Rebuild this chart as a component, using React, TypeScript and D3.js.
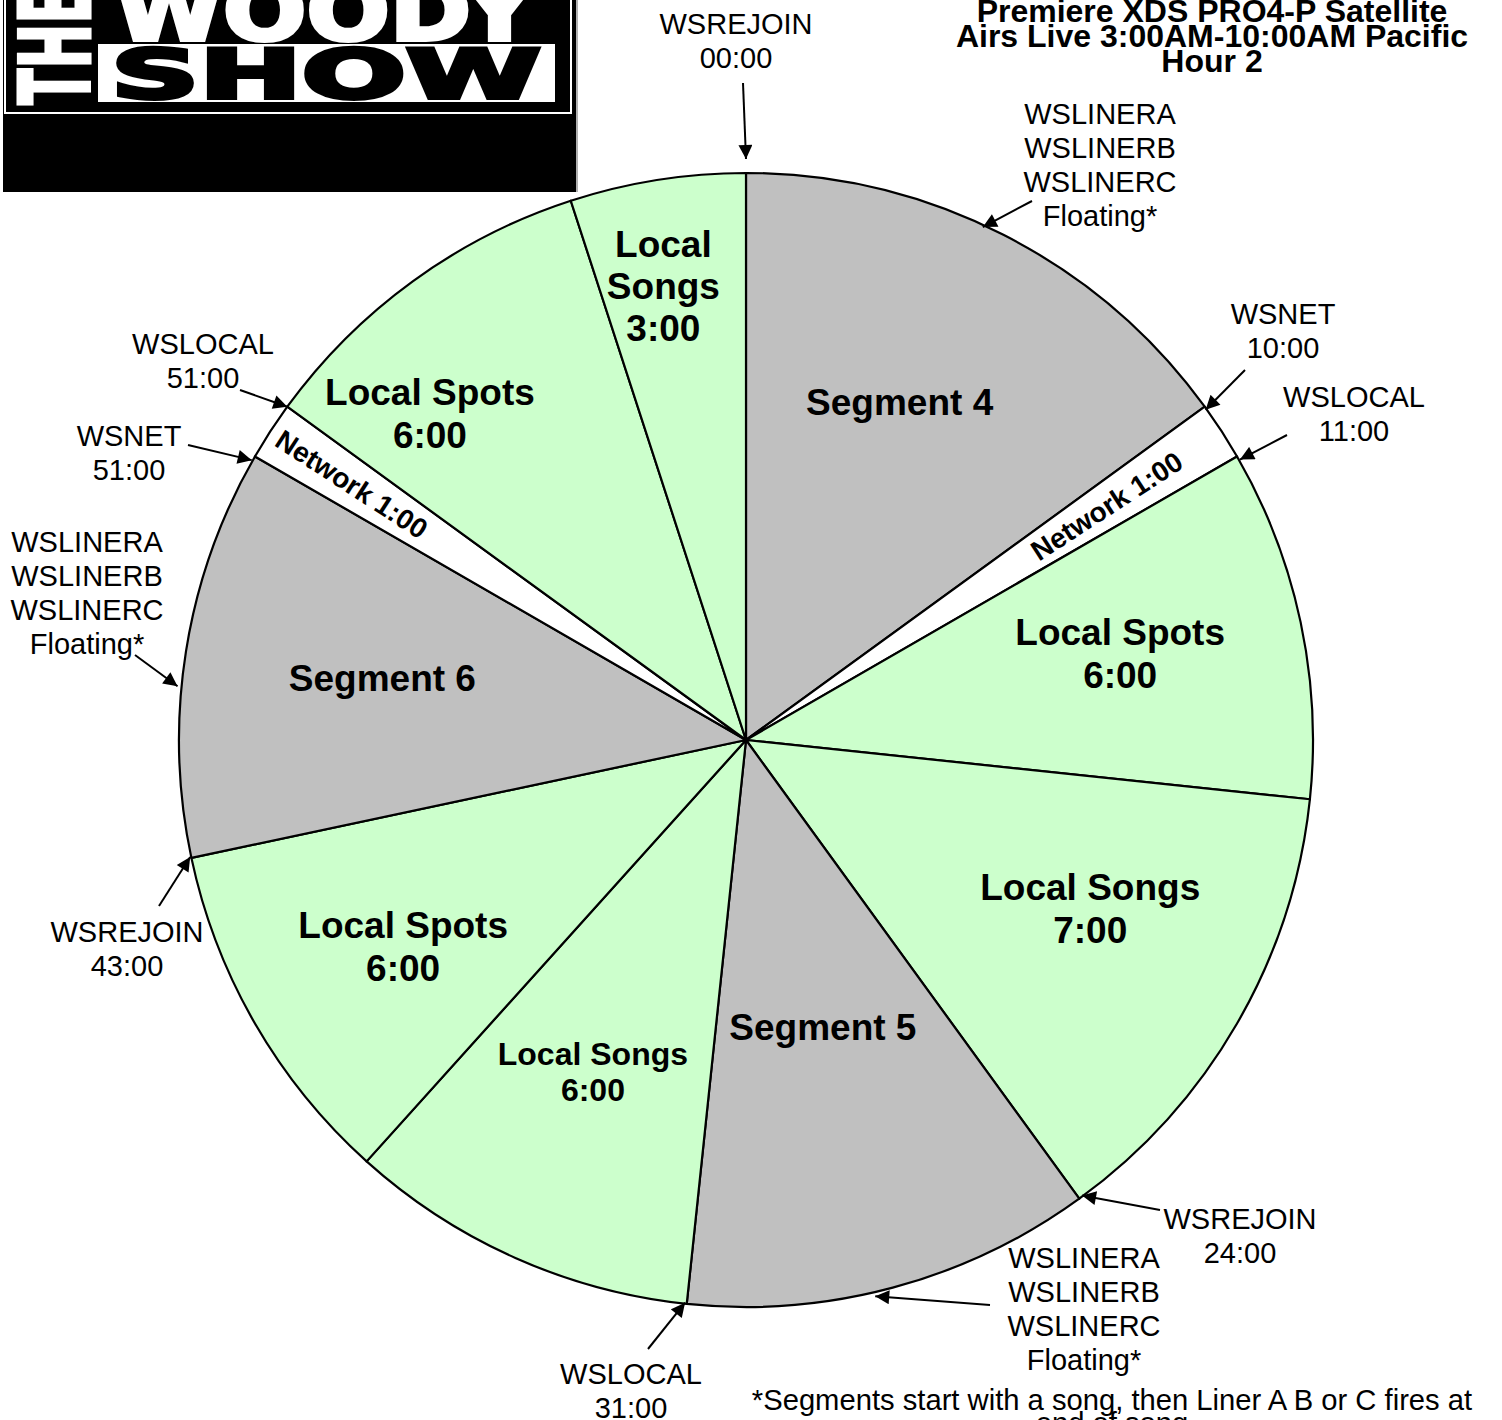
import React from "react";
import * as d3 from "d3";

// ---------- data ----------
const sliceNames = [
  "Segment 4", "Network", "Local Spots", "Local Songs", "Segment 5",
  "Local Songs", "Local Spots", "Segment 6", "Network", "Local Spots", "Local Songs",
];
const sliceDurations = ["", "1:00", "6:00", "7:00", "", "6:00", "6:00", "", "1:00", "6:00", "3:00"];
const sliceKinds = ["segment", "network", "local", "local", "segment", "local", "local", "segment", "network", "local", "local"];
// share of the dial each slice occupies (minutes of a 60-minute clock)
const sliceMinutes = [9, 1, 6, 8, 7, 6, 6, 7, 1, 6, 3];

const markerTexts = [
  ["WSREJOIN", "00:00"],
  ["WSLINERA", "WSLINERB", "WSLINERC", "Floating*"],
  ["WSNET", "10:00"],
  ["WSLOCAL", "11:00"],
  ["WSREJOIN", "24:00"],
  ["WSLINERA", "WSLINERB", "WSLINERC", "Floating*"],
  ["WSLOCAL", "31:00"],
  ["WSREJOIN", "43:00"],
  ["WSLINERA", "WSLINERB", "WSLINERC", "Floating*"],
  ["WSNET", "51:00"],
  ["WSLOCAL", "51:00"],
];
// where each arrow points on the dial (minutes of the dial)
const markerDial = [0, 4.13, 9.05, 10.07, 23.93, 27.82, 31.03, 43.02, 45.9, 49.92, 51.0];

const titleLines = ["Premiere XDS PRO4-P Satellite", "Airs Live 3:00AM-10:00AM Pacific", "Hour 2"];
const footnoteLines = ["*Segments start with a song, then Liner A B or C fires at", "end of song"];

// ---------- layout ----------
const W = 1502, H = 1420;
const CX = 746, CY = 740, R = 567;
const FONT = "'Liberation Sans', Arial, Helvetica, sans-serif";
const colors: Record<string, string> = { segment: "#C0C0C0", network: "#FFFFFF", local: "#CCFFCC" };

// label placement: radius and angle offset (deg) from slice mid angle
const labelLayout = [
  { r: 372, da: -2.6 }, { r: 430, da: 0 }, { r: 384, da: -1 }, { r: 383, da: -4 },
  { r: 297, da: 0 }, { r: 365, da: 0.8 }, { r: 400, da: -1 }, { r: 369, da: 0.8 },
  { r: 470, da: 0 }, { r: 455, da: -8 }, { r: 462, da: -1.3 },
];
// marker text (center x, first-line center y), arrow tail, tip radius
const markerLayout = [
  { x: 736, y: 24, tx: 743, ty: 83, tr: 581 },
  { x: 1100, y: 114, tx: 1032, ty: 201, tr: 565 },
  { x: 1283, y: 314, tx: 1245, ty: 370, tr: 566 },
  { x: 1354, y: 397, tx: 1287, ty: 435, tr: 568 },
  { x: 1240, y: 1219, tx: 1160, ty: 1210, tr: 566 },
  { x: 1084, y: 1258, tx: 990, ty: 1305, tr: 571 },
  { x: 631, y: 1374, tx: 648, ty: 1349, tr: 566 },
  { x: 127, y: 932, tx: 159, ty: 906, tr: 568 },
  { x: 87, y: 542, tx: 135, ty: 655, tr: 571 },
  { x: 129, y: 436, tx: 188, ty: 445, tr: 568 },
  { x: 203, y: 344, tx: 240, ty: 390, tr: 567 },
];

const dial = d3.scaleLinear().domain([0, 60]).range([0, 2 * Math.PI]);

function polar(angle: number, r: number): [number, number] {
  return [CX + r * Math.sin(angle), CY - r * Math.cos(angle)];
}

function sliceLines(i: number): string[] {
  const name = sliceNames[i], dur = sliceDurations[i];
  if (sliceKinds[i] === "segment") return [name];
  if (i === 10) return ["Local", "Songs", dur];
  return [name, dur];
}

export default function App() {
  const pie = d3.pie<number>().value((d) => d).sort(null).startAngle(0).endAngle(2 * Math.PI);
  const arcs = pie(sliceMinutes);
  const arcGen = d3.arc<d3.PieArcDatum<number>>().innerRadius(0).outerRadius(R);

  return (
    <svg width={W} height={H} style={{ position: "absolute", left: 0, top: 0, display: "block", background: "#fff" }} fontFamily={FONT}>
      <defs>
        <marker id="ah" viewBox="0 0 10 10" refX="10" refY="5" markerWidth="16" markerHeight="14" markerUnits="userSpaceOnUse" orient="auto">
          <path d="M0,0 L10,5 L0,10 Z" fill="#000" />
        </marker>
      </defs>

      {/* pie */}
      <g transform={`translate(${CX},${CY})`}>
        {arcs.map((a, i) => (
          <path key={i} d={arcGen(a) || ""} fill={colors[sliceKinds[i]]} stroke="#000" strokeWidth={2.2} strokeLinejoin="round" />
        ))}
      </g>

      {/* slice labels */}
      {arcs.map((a, i) => {
        const mid = (a.startAngle + a.endAngle) / 2 + (labelLayout[i].da * Math.PI) / 180;
        const [x, y] = polar(mid, labelLayout[i].r);
        if (sliceKinds[i] === "network") {
          let deg = (mid * 180) / Math.PI - 90;
          if (deg > 90) deg -= 180;
          return (
            <text key={i} transform={`translate(${x},${y}) rotate(${deg})`} textAnchor="middle" dy={10} fontSize={28} fontWeight="bold">
              {`${sliceNames[i]} ${sliceDurations[i]}`}
            </text>
          );
        }
        const lines = sliceLines(i);
        const small = i === 5;
        const fs = small ? 32 : 37;
        const lh = small ? 36 : i === 10 ? 42 : 43;
        const y0 = y - ((lines.length - 1) * lh) / 2;
        return (
          <text key={i} textAnchor="middle" fontSize={fs} fontWeight="bold">
            {lines.map((l, j) => (
              <tspan key={j} x={x} y={y0 + j * lh + fs * 0.36}>{l}</tspan>
            ))}
          </text>
        );
      })}

      {/* markers */}
      {markerTexts.map((lines, i) => {
        const m = markerLayout[i];
        const [px, py] = polar(dial(markerDial[i]), m.tr);
        return (
          <g key={i}>
            <line x1={m.tx} y1={m.ty} x2={px} y2={py} stroke="#000" strokeWidth={2} markerEnd="url(#ah)" />
            <text textAnchor="middle" fontSize={29}>
              {lines.map((l, j) => (
                <tspan key={j} x={m.x} y={m.y + j * 34 + 10}>{l}</tspan>
              ))}
            </text>
          </g>
        );
      })}

      {/* logo */}
      <g>
        <rect x={3} y={0} width={574} height={192} fill="#000" />
        <line x1={577} y1={0} x2={577} y2={192} stroke="#b0b0b0" strokeWidth={2} />
        <rect x={5} y={-5} width={566} height={118} fill="none" stroke="#fff" strokeWidth={2} />
        <text transform="translate(90,46) rotate(-90)" textAnchor="middle" fontSize={98} fontWeight="bold" fill="#fff" stroke="#fff" strokeWidth={3} textLength={118} lengthAdjust="spacingAndGlyphs" fontFamily="'DejaVu Sans', sans-serif">THE</text>
        <rect x={98} y={44} width={457} height={58} fill="#fff" />
        <text x={326} y={98} textAnchor="middle" fontSize={68} fontWeight="bold" fill="#000" stroke="#000" strokeWidth={4} textLength={430} lengthAdjust="spacingAndGlyphs" fontFamily="'DejaVu Sans', sans-serif">SHOW</text>
        <text x={325} y={40} textAnchor="middle" fontSize={82} fontWeight="bold" fill="#fff" stroke="#fff" strokeWidth={4} textLength={420} lengthAdjust="spacingAndGlyphs" fontFamily="'DejaVu Sans', sans-serif">WOODY</text>
      </g>

      {/* title */}
      <text textAnchor="middle" fontSize={32} fontWeight="bold">
        {titleLines.map((l, j) => (
          <tspan key={j} x={1212} y={22 + j * 25}>{l}</tspan>
        ))}
      </text>

      {/* footnote */}
      <text textAnchor="middle" fontSize={29.2}>
        {footnoteLines.map((l, j) => (
          <tspan key={j} x={1112} y={1410 + j * 23}>{l}</tspan>
        ))}
      </text>
    </svg>
  );
}
